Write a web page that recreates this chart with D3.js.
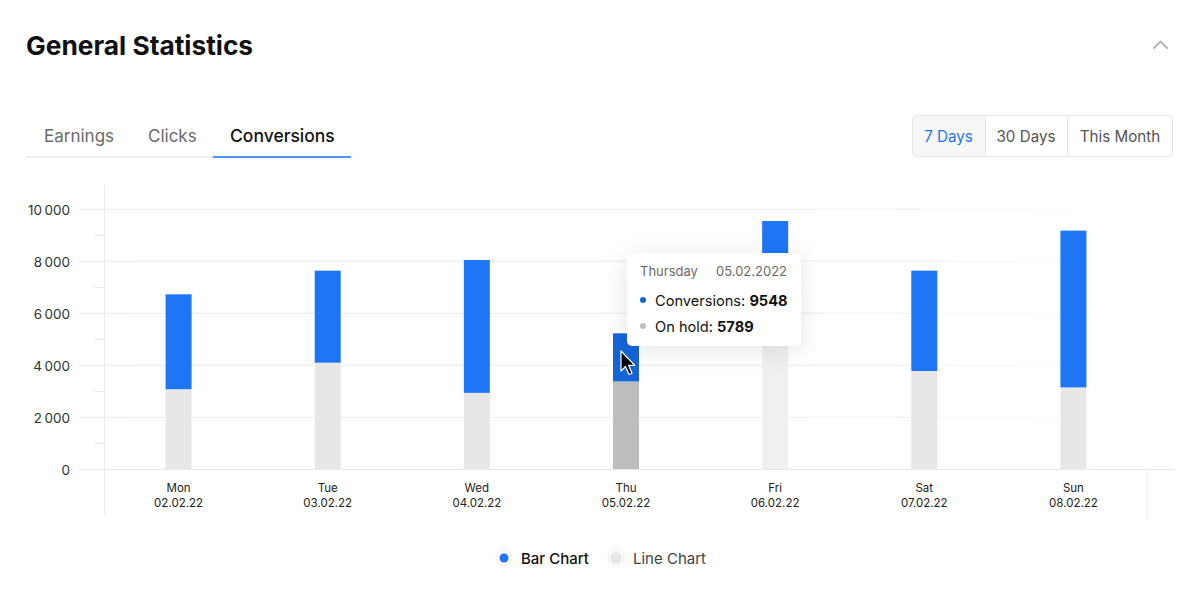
<!DOCTYPE html>
<html><head><meta charset="utf-8">
<script src="https://cdn.jsdelivr.net/npm/d3@7/dist/d3.min.js"></script>
<style>
html,body{margin:0;padding:0;background:#fff;}
svg{display:block;font-family:Inter,"Noto Sans",sans-serif;}
</style></head>
<body>
<svg id="c" width="1200" height="593"></svg>
<script>
const days = ["Mon","Tue","Wed","Thu","Fri","Sat","Sun"];
const dates = ["02.02.22","03.02.22","04.02.22","05.02.22","06.02.22","07.02.22","08.02.22"];
const conversions = [6730, 7640, 8050, 5230, 9548, 7640, 9180];
const onHold = [3080, 4100, 2940, 3380, 5789, 3780, 3150];
const yTicks = [0, 2000, 4000, 6000, 8000, 10000];
const tabs = ["Earnings","Clicks","Conversions"];
const ranges = ["7 Days","30 Days","This Month"];
const legendItems = ["Bar Chart","Line Chart"];
const tooltipDay = "Thursday", tooltipDate = "05.02.2022";
const tooltipRows = [["Conversions: ", "9548"], ["On hold: ", "5789"]];
const hovered = 3;

const svg = d3.select("#c");
const defs = svg.append("defs");
const gg = defs.append("linearGradient").attr("id","gridFade").attr("gradientUnits","userSpaceOnUse")
  .attr("x1",78).attr("x2",1130).attr("y1",0).attr("y2",0);
gg.append("stop").attr("offset","0").attr("stop-color","#e9e9e9");
gg.append("stop").attr("offset","0.75").attr("stop-color","#ececec");
gg.append("stop").attr("offset","1").attr("stop-color","#ffffff");
const f = defs.append("filter").attr("id","shadow").attr("x","-40%").attr("y","-40%").attr("width","180%").attr("height","180%");
f.append("feDropShadow").attr("dx",0).attr("dy",4).attr("stdDeviation",12).attr("flood-color","#000").attr("flood-opacity",0.10);

// Title
svg.append("text").attr("x",26).attr("y",55).attr("font-size",26.3).attr("font-weight",700)
  .attr("fill","#111").text("General Statistics");
// chevron
svg.append("path").attr("d","M1154,48 L1160.5,41.5 L1167,48").attr("fill","none")
  .attr("stroke","#b5b5b5").attr("stroke-width",2).attr("stroke-linecap","round").attr("stroke-linejoin","round");

// Tabs
const tabX = [44, 148, 230];
svg.append("line").attr("x1",26).attr("x2",351).attr("y1",157).attr("y2",157).attr("stroke","#e8e8e8").attr("stroke-width",1.5);
svg.append("line").attr("x1",213).attr("x2",351).attr("y1",157).attr("y2",157).attr("stroke","#1e76f6").attr("stroke-width",1.5);
svg.selectAll("text.tab").data(tabs).join("text").attr("class","tab")
  .attr("x",(d,i)=>tabX[i]).attr("y",142).attr("font-size",(d,i)=>i===2?17.5:17)
  .attr("font-weight",(d,i)=>i===2?500:400)
  .attr("fill",(d,i)=>i===2?"#111":"#6b6b6b").text(d=>d);

// Range buttons
const bx = [912, 985, 1067, 1173];
svg.append("rect").attr("x",912.5).attr("y",115.5).attr("width",73).attr("height",41).attr("rx",4).attr("fill","#f7f7f7");
svg.append("rect").attr("x",912.5).attr("y",115.5).attr("width",260).attr("height",41).attr("rx",4)
  .attr("fill","none").attr("stroke","#e6e6e6");
[985,1067].forEach(x=>svg.append("line").attr("x1",x+0.5).attr("x2",x+0.5).attr("y1",116).attr("y2",156).attr("stroke","#e6e6e6"));
svg.selectAll("text.rng").data(ranges).join("text").attr("class","rng")
  .attr("x",(d,i)=>(bx[i]+bx[i+1])/2).attr("y",142).attr("text-anchor","middle").attr("font-size",15.2)
  .attr("fill",(d,i)=>i===0?"#1e76f6":"#555").text(d=>d);

// Chart
const x = d3.scaleBand().domain(days).range([104,1148]).paddingInner(0).paddingOuter(0);
const y = d3.scaleLinear().domain([0,10000]).range([469.3,209.3]);
const barW = 26;

// gridlines
svg.append("g").selectAll("line").data(yTicks).join("line")
  .attr("x1",78).attr("x2",1130).attr("y1",d=>y(d)).attr("y2",d=>y(d))
  .attr("stroke","url(#gridFade)").attr("stroke-width",1);
// minor ticks
const minor = d3.range(1000,10000,2000);
svg.append("g").selectAll("line").data(minor).join("line")
  .attr("x1",94).attr("x2",104).attr("y1",d=>y(d)).attr("y2",d=>y(d)).attr("stroke","#e9e9e9");
// y axis labels
const yAxis = d3.axisLeft(y).tickValues(yTicks).tickSize(0).tickPadding(0)
  .tickFormat(d=>d3.format(",")(d).replace(/,/g,"\u2009"));
const ya = svg.append("g").attr("transform","translate(70,0)").call(yAxis);
ya.select(".domain").remove();
ya.selectAll("text").attr("font-family","Inter,sans-serif").attr("font-size",13.5).attr("fill","#333").attr("dy","0.35em");

// vertical axis line
svg.append("line").attr("x1",104.5).attr("x2",104.5).attr("y1",185).attr("y2",515).attr("stroke","#ececec");
svg.append("line").attr("x1",1147.5).attr("x2",1147.5).attr("y1",469).attr("y2",520).attr("stroke","#efefef");

// bars
const g = svg.append("g");
g.selectAll("rect.hold").data(days).join("rect").attr("class","hold")
  .attr("x",d=>x(d)+x.bandwidth()/2-barW/2).attr("width",barW)
  .attr("y",(d,i)=>y(onHold[i])).attr("height",(d,i)=>y(0)-y(onHold[i]))
  .attr("fill",(d,i)=>i===hovered?"#bdbdbd":(i===4?"#f0f0f0":"#e7e7e7"));
g.selectAll("rect.conv").data(days).join("rect").attr("class","conv")
  .attr("x",d=>x(d)+x.bandwidth()/2-barW/2).attr("width",barW)
  .attr("y",(d,i)=>y(conversions[i])).attr("height",(d,i)=>y(onHold[i])-y(conversions[i]))
  .attr("fill",(d,i)=>i===hovered?"#1565d8":"#1e76f6");

// baseline
svg.append("line").attr("x1",104).attr("x2",1175).attr("y1",469.5).attr("y2",469.5).attr("stroke","#e8e8e8");

// x labels
const xl = svg.append("g").selectAll("text").data(days).join("text")
  .attr("x",d=>x(d)+x.bandwidth()/2).attr("text-anchor","middle").attr("font-size",11.5).attr("fill","#222");
xl.append("tspan").attr("x",d=>x(d)+x.bandwidth()/2).attr("y",492).text(d=>d);
xl.append("tspan").attr("x",d=>x(d)+x.bandwidth()/2).attr("y",507).text((d,i)=>dates[i]);

// tooltip
const tt = svg.append("g");
tt.append("rect").attr("x",627).attr("y",253).attr("width",174).attr("height",93).attr("rx",5)
  .attr("fill","#fff").attr("filter","url(#shadow)");
tt.append("text").attr("x",640).attr("y",276).attr("font-size",13).attr("fill","#6b6b6b").text(tooltipDay);
tt.append("text").attr("x",787).attr("y",276).attr("text-anchor","end").attr("font-size",13).attr("fill","#6b6b6b").text(tooltipDate);
const rowCol = ["#1565d8","#bdbdbd"];
tooltipRows.forEach((r,i)=>{
  const yy = 300 + i*26;
  tt.append("circle").attr("cx",643).attr("cy",yy).attr("r",3).attr("fill",rowCol[i]);
  const t = tt.append("text").attr("x",655).attr("y",yy+5.5).attr("font-size",14.6).attr("fill","#111");
  t.append("tspan").text(r[0]);
  t.append("tspan").attr("font-weight",700).text(r[1]);
});

// cursor
svg.append("path")
  .attr("d","M621,351 L621,371 L625.5,366.5 L629,374.5 L632,373.2 L628.6,365.3 L634.8,365.3 Z")
  .attr("fill","#000").attr("stroke","#fff").attr("stroke-width",1.2).attr("stroke-linejoin","round");

// legend
const lx = [504, 616];
legendItems.forEach((t,i)=>{
  svg.append("circle").attr("cx",lx[i]).attr("cy",558).attr("r",8).attr("fill","#fff").attr("stroke","#ececec");
  svg.append("circle").attr("cx",lx[i]).attr("cy",558).attr("r",i===0?4.5:6).attr("fill",i===0?"#1e76f6":"#e6e6e6");
  svg.append("text").attr("x",lx[i]+17).attr("y",563.5).attr("font-size",15)
    .attr("font-weight",i===0?500:400).attr("fill",i===0?"#111":"#444").text(t);
});
</script>
</body></html>
